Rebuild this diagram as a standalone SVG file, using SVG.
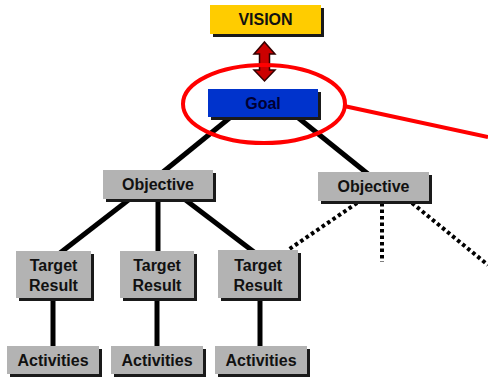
<svg xmlns="http://www.w3.org/2000/svg" width="488" height="379" viewBox="0 0 488 379">
<defs>
<style>
.sh{fill:#1a1a1a}
.g{fill:#b3b3b3}
.t{font-family:"Liberation Sans",Arial,sans-serif;font-size:16px;font-weight:bold;fill:#111;text-anchor:middle}
.ln{stroke:#000;stroke-width:5;fill:none}
.dt{stroke:#000;stroke-width:4;fill:none;stroke-dasharray:3.5 3}
</style>
</defs>
<rect width="488" height="379" fill="#fff"/>
<g id="connectors">
<line class="ln" x1="232" y1="116" x2="163" y2="172"/>
<line class="ln" x1="296" y1="116" x2="368" y2="174"/>
<line class="ln" x1="131" y1="198" x2="60" y2="253"/>
<line class="ln" x1="158" y1="198" x2="158" y2="253"/>
<line class="ln" x1="183" y1="198" x2="254" y2="252"/>
<line class="ln" x1="53" y1="298" x2="53" y2="347"/>
<line class="ln" x1="157" y1="298" x2="157" y2="347"/>
<line class="ln" x1="260" y1="298" x2="260" y2="347"/>
<line class="dt" x1="357" y1="203" x2="288" y2="250"/>
<line class="dt" x1="382" y1="203" x2="382" y2="262"/>
<line class="dt" x1="412" y1="203" x2="488" y2="265"/>
</g>
<g id="vision">
<rect class="sh" x="213" y="8" width="111" height="29"/>
<rect x="210" y="5" width="111" height="29" fill="#ffcc00"/>
<text class="t" x="265.5" y="25">VISION</text>
</g>
<g id="arrow">
<path d="M264.5,42 L275,54 L269.5,54 L269.5,70 L275,70 L264.5,81 L254,70 L259.5,70 L259.5,54 L254,54 Z" fill="#cc0000" stroke="#330000" stroke-width="1.5" stroke-linejoin="miter"/>
</g>
<g id="goal">
<rect class="sh" x="211" y="92" width="110" height="28"/>
<rect x="208" y="89" width="110" height="28" fill="#0033cc"/>
<text class="t" x="263" y="109" style="fill:#000033">Goal</text>
</g>
<g id="highlight">
<ellipse cx="264" cy="104" rx="81" ry="39" fill="none" stroke="#ff0000" stroke-width="4"/>
<line x1="344" y1="106" x2="488" y2="137" stroke="#ff0000" stroke-width="4"/>
</g>
<g id="objective1">
<rect class="sh" x="106" y="173" width="110" height="29"/>
<rect class="g" x="103" y="170" width="110" height="29"/>
<text class="t" x="158" y="190">Objective</text>
</g>
<g id="objective2">
<rect class="sh" x="321" y="175" width="111" height="29"/>
<rect class="g" x="318" y="172" width="111" height="29"/>
<text class="t" x="373.5" y="192">Objective</text>
</g>
<g id="target1">
<rect class="sh" x="19" y="254" width="75" height="47"/>
<rect class="g" x="16" y="251" width="75" height="47"/>
<text class="t" x="53.5" y="271">Target</text>
<text class="t" x="53.5" y="291">Result</text>
</g>
<g id="target2">
<rect class="sh" x="123" y="254" width="74" height="47"/>
<rect class="g" x="120" y="251" width="74" height="47"/>
<text class="t" x="157" y="271">Target</text>
<text class="t" x="157" y="291">Result</text>
</g>
<g id="target3">
<rect class="sh" x="221" y="253" width="80" height="48"/>
<rect class="g" x="218" y="250" width="80" height="48"/>
<text class="t" x="258" y="271">Target</text>
<text class="t" x="258" y="291">Result</text>
</g>
<g id="activities1">
<rect class="sh" x="10" y="349" width="92" height="28"/>
<rect class="g" x="7" y="346" width="92" height="28"/>
<text class="t" x="53" y="366">Activities</text>
</g>
<g id="activities2">
<rect class="sh" x="114" y="349" width="92" height="28"/>
<rect class="g" x="111" y="346" width="92" height="28"/>
<text class="t" x="157" y="366">Activities</text>
</g>
<g id="activities3">
<rect class="sh" x="218" y="349" width="92" height="28"/>
<rect class="g" x="215" y="346" width="92" height="28"/>
<text class="t" x="261" y="366">Activities</text>
</g>
</svg>
